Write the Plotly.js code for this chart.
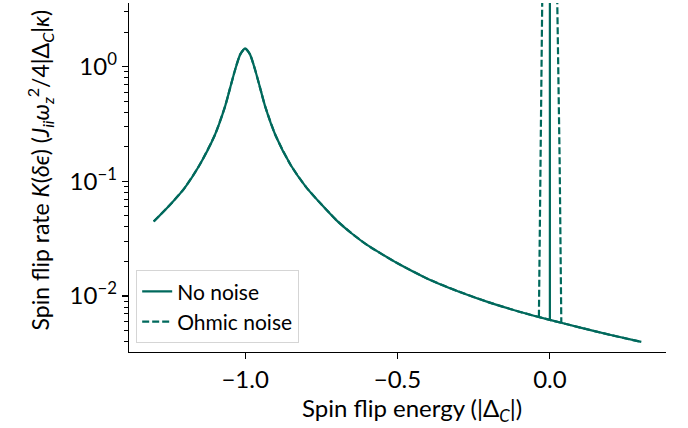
<!DOCTYPE html>
<html>
<head>
<meta charset="utf-8">
<script src="https://cdn.plot.ly/plotly-3.0.1.min.js"></script>
<style>html,body{margin:0;padding:0;background:#fff;}#chart{width:688px;height:428px;}</style>
</head>
<body>
<div id="chart"></div>
<script>
// Spin flip rate vs spin flip energy
// Smooth part of the rate curve (shared by both series)
const xCurve = [-1.30, -1.25, -1.20, -1.15, -1.10, -1.066, -1.05, -1.033, -1.016, -1.0, -0.984, -0.967, -0.95, -0.934, -0.90, -0.85, -0.80, -0.75, -0.70, -0.65, -0.60, -0.55, -0.50, -0.40, -0.30, -0.20, -0.10, 0.0, 0.10, 0.20, 0.30];
const yNoNoise = [0.0446, 0.0610, 0.0865, 0.138, 0.251, 0.448, 0.640, 0.936, 1.28, 1.446, 1.28, 0.936, 0.640, 0.448, 0.251, 0.138, 0.0891, 0.0631, 0.0457, 0.0351, 0.0279, 0.0231, 0.0193, 0.0141, 0.01096, 0.00881, 0.00730, 0.00619, 0.00531, 0.00457, 0.00398];
const yOhmic = [0.0446, 0.0610, 0.0865, 0.138, 0.251, 0.448, 0.640, 0.936, 1.28, 1.446, 1.28, 0.936, 0.640, 0.448, 0.251, 0.138, 0.0891, 0.0631, 0.0457, 0.0351, 0.0279, 0.0231, 0.0193, 0.0141, 0.01096, 0.00881, 0.00730, 0.00619, 0.00531, 0.00457, 0.00398];

// Resonance at zero energy
const xSpikeNoNoise = [0.0, 0.0];
const ySpikeNoNoise = [0.00619, 100];
const xSpikeOhmic = [-0.036, -0.030, -0.025, 0.0, 0.024, 0.032, 0.0375];
const ySpikeOhmic = [0.0066, 0.153, 4.0, 30, 4.0, 0.153, 0.0059];

const xTickVals = [-1.0, -0.5, 0.0];
const xTickText = ['\u22121.0', '\u22120.5', '0.0'];
const yTickVals = [0.01, 0.1, 1];
const yTickText = ['10<sup>\u22122</sup>', '10<sup>\u22121</sup>', '10<sup>0</sup>'];
const yMinorVals = [0.004,0.005,0.006,0.007,0.008,0.009,0.02,0.03,0.04,0.05,0.06,0.07,0.08,0.09,0.2,0.3,0.4,0.5,0.6,0.7,0.8,0.9,2,3];

const color = '#00695c';
const FONT = 'Lato, "Open Sans", sans-serif';
const solid = {color: color, width: 2.2};
const dashed = {color: color, width: 2.2, dash: '7px,3px'};

const traces = [
  {x: xCurve, y: yNoNoise, mode: 'lines', name: 'No noise', legendgroup: 'a',
   line: Object.assign({shape: 'spline', smoothing: 0.6}, solid)},
  {x: xSpikeNoNoise, y: ySpikeNoNoise, mode: 'lines', name: 'No noise', legendgroup: 'a', showlegend: false,
   line: solid},
  {x: xCurve, y: yOhmic, mode: 'lines', name: 'Ohmic noise', legendgroup: 'b',
   line: Object.assign({shape: 'spline', smoothing: 0.6}, dashed)},
  {x: xSpikeOhmic, y: ySpikeOhmic, mode: 'lines', name: 'Ohmic noise', legendgroup: 'b', showlegend: false,
   line: dashed}
];

const layout = {
  width: 688, height: 428,
  margin: {l: 129, r: 22, t: 3, b: 76},
  paper_bgcolor: '#fff', plot_bgcolor: '#fff',
  font: {family: FONT, size: 24, color: '#000'},
  showlegend: true,
  legend: {x: 0.013, y: 0.235, xanchor: 'left', yanchor: 'top', itemwidth: 30, tracegroupgap: 0,
           bgcolor: 'rgba(255,255,255,0.8)', bordercolor: '#d5d5d5', borderwidth: 1.2,
           font: {family: FONT, size: 21, color: '#000'}},
  xaxis: {
    range: [-1.381, 0.381], tickmode: 'array', tickvals: xTickVals, ticktext: xTickText,
    showgrid: false, zeroline: false, showline: true, linecolor: '#000', linewidth: 1.3,
    ticks: 'outside', ticklen: 6, tickwidth: 1.2, tickcolor: '#000',
    tickfont: {family: FONT, size: 24, color: '#000'}, mirror: false
  },
  yaxis: {
    type: 'log', range: [-2.488, 0.555], tickmode: 'array', tickvals: yTickVals, ticktext: yTickText,
    showgrid: false, zeroline: false, showline: true, linecolor: '#000', linewidth: 1.3,
    ticks: 'outside', ticklen: 6, tickwidth: 1.2, tickcolor: '#000',
    tickfont: {family: FONT, size: 24, color: '#000'},
    minor: {tickmode: 'array', tickvals: yMinorVals, ticks: 'outside', ticklen: 3.5, tickwidth: 1, tickcolor: '#000', showgrid: false}
  },
  annotations: [
    {text: 'Spin flip energy (|\u0394<sub><i>C</i></sub>|)', xref: 'paper', yref: 'paper',
     x: 0.527, y: -0.166, xanchor: 'center', yanchor: 'middle', showarrow: false,
     font: {family: FONT, size: 24, color: '#000'}},
    {text: 'Spin flip rate <i>K</i>(<i>\u03b4\u03f5</i>) (<i>J<sub>ii</sub>\u03c9<sub>z</sub></i><sup>2</sup>/4|\u0394<sub><i>C</i></sub>|<i>\u03ba</i>)',
     xref: 'paper', yref: 'paper', x: -0.166, y: 0.52, xanchor: 'center', yanchor: 'middle',
     textangle: -90, showarrow: false, font: {family: FONT, size: 23, color: '#000'}}
  ]
};

Plotly.newPlot('chart', traces, layout, {displayModeBar: false, staticPlot: true});
</script>
</body>
</html>
